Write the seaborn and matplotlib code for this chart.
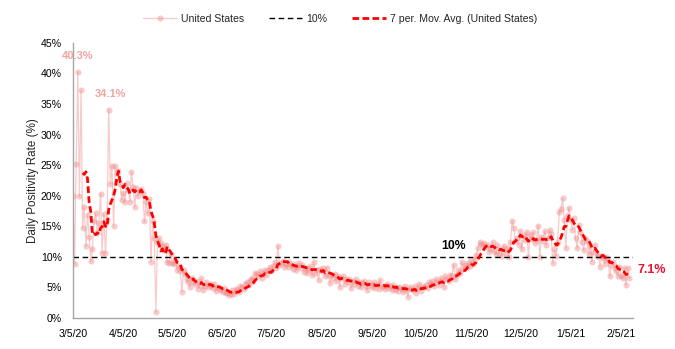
import pandas as pd
import matplotlib
matplotlib.use("Agg")
import matplotlib.pyplot as plt
import seaborn as sns

# Daily COVID-19 test positivity rate (%), United States, starting 3/5/20
start_date = "2020-03-05"
mar_2020 = [19.9, 8.8, 25.2, 40.3, 19.9, 37.3, 14.7, 18.2, 11.8, 16.9, 13.3, 9.3, 11.2,
            15.8, 17.1, 13.9, 15.5, 20.3, 10.6, 17.0, 10.6, 16.0, 34.1, 21.9, 24.9, 15.1, 24.8]
apr_2020 = [23.5, 24.0, 21.9, 19.3, 20.5, 18.9, 22.0, 20.9, 19.0, 23.8, 21.5, 18.2, 21.2, 20.0, 20.8,
            21.1, 20.5, 15.8, 19.0, 17.1, 19.4, 9.2, 15.8, 13.0, 1.0, 12.5, 13.0, 12.2, 11.8, 11.1]
may_2020 = [12.0, 9.2, 9.0, 10.4, 9.0, 8.8, 9.3, 7.9, 8.5, 7.6, 4.3, 7.9, 7.2, 6.3, 5.9, 5.1,
            6.6, 5.8, 5.5, 6.0, 4.8, 5.4, 6.5, 4.6, 5.3, 5.9, 5.0, 5.6, 5.2, 4.9, 5.6]
jun_2020 = [4.4, 5.1, 4.8, 4.6, 4.2, 4.9, 4.0, 4.1, 3.8, 3.9, 4.5, 3.9, 4.8, 4.6, 4.2,
            5.3, 5.0, 4.7, 5.5, 5.9, 5.4, 6.2, 6.6, 6.1, 7.4, 7.2, 6.8, 7.6, 6.5, 7.3]
jul_2020 = [7.9, 7.0, 7.8, 8.3, 7.6, 8.5, 9.1, 8.2, 11.8, 8.7, 9.0, 9.3, 8.4, 8.9, 8.3, 9.1,
            8.6, 8.0, 8.8, 7.9, 8.4, 9.0, 8.2, 8.7, 7.5, 8.1, 7.3, 7.9, 8.5, 7.0, 9.2]
aug_2020 = [7.4, 7.8, 6.2, 8.0, 7.6, 8.1, 6.8, 8.2, 7.1, 5.7, 7.0, 6.6, 7.2, 6.0, 6.9, 5.1,
            6.5, 6.8, 5.6, 6.3, 5.9, 6.4, 4.9, 6.0, 5.5, 6.3, 5.2, 5.8, 5.0, 5.7, 6.1]
sep_2020 = [5.3, 4.6, 5.9, 5.4, 5.1, 5.8, 4.9, 5.5, 4.8, 6.2, 5.0, 5.3, 4.7, 5.6, 4.9,
            5.2, 4.5, 5.4, 4.6, 5.1, 4.4, 5.0, 4.8, 4.3, 5.3, 4.6, 3.5, 5.0, 4.7, 4.5]
oct_2020 = [5.2, 4.1, 4.9, 5.6, 4.4, 5.1, 5.0, 5.4, 4.9, 5.8, 5.5, 6.0, 5.2, 6.3, 5.9, 5.4,
            6.5, 6.1, 5.1, 6.8, 6.4, 6.0, 7.1, 6.9, 8.7, 6.3, 7.0, 7.8, 7.4, 9.2, 8.0]
nov_2020 = [8.6, 8.3, 9.0, 8.5, 9.4, 8.8, 9.6, 10.3, 11.4, 12.4, 12.1, 11.8, 12.3, 11.6, 12.0,
            10.8, 11.2, 12.4, 11.0, 10.4, 11.9, 10.5, 11.3, 10.2, 11.8, 10.6, 11.5, 10.0, 12.4, 15.9]
dec_2020 = [14.7, 12.6, 13.1, 12.0, 14.2, 11.2, 13.5, 12.8, 14.1, 10.0, 13.6, 12.9, 14.0, 12.3, 12.7,
            15.1, 10.0, 13.3, 12.6, 14.2, 11.9, 13.0, 14.4, 13.8, 9.0, 11.2, 10.1, 12.5, 17.4, 17.8, 19.6]
jan_2021 = [16.0, 11.4, 16.6, 18.0, 16.0, 14.4, 16.3, 13.0, 11.4, 15.2, 14.0, 12.4, 11.1, 13.0, 12.6,
            10.4, 11.8, 9.2, 10.8, 12.0, 10.1, 10.3, 8.4, 10.2, 9.8, 8.9, 10.0, 9.4, 6.8, 8.7, 9.1]
feb_2021 = [8.2, 7.6, 6.9, 8.4, 6.8, 6.5, 8.1, 5.4, 8.1, 6.5]

positivity = (mar_2020 + apr_2020 + may_2020 + jun_2020 + jul_2020 + aug_2020
              + sep_2020 + oct_2020 + nov_2020 + dec_2020 + jan_2021 + feb_2021)

threshold = 10
ma_window = 7
second_peak_date = "2020-03-27"

x_tick_labels = ["3/5/20", "4/5/20", "5/5/20", "6/5/20", "7/5/20", "8/5/20",
                 "9/5/20", "10/5/20", "11/5/20", "12/5/20", "1/5/21", "2/5/21"]
y_ticks = [0, 5, 10, 15, 20, 25, 30, 35, 40, 45]

series_name = "United States"
ma_name = f"{ma_window} per. Mov. Avg. ({series_name})"

df = pd.DataFrame({
    "date": pd.date_range(start_date, periods=len(positivity), freq="D"),
    "rate": positivity,
})
df["ma"] = df["rate"].rolling(ma_window).mean()

sns.set_theme(style="white")
plt.rcParams["font.family"] = ["Liberation Sans", "DejaVu Sans"]

fig, ax = plt.subplots(figsize=(6.75, 3.49), dpi=100)
fig.subplots_adjust(left=0.108, right=0.938, bottom=0.089, top=0.877)

pink = "#F08A8A"
sns.lineplot(data=df, x="date", y="rate", ax=ax, color=pink, lw=0.9,
             marker="o", markersize=4.4, markeredgewidth=0, alpha=0.45,
             label=series_name)
ax.axhline(threshold, color="black", lw=1.0, ls=(0, (4, 2.6)), label=f"{threshold}%")
sns.lineplot(data=df, x="date", y="ma", ax=ax, color="#FF0000", lw=2.0,
             ls=(0, (2.4, 1.2)), label=ma_name)

# Axis ranges and ticks
x0 = df["date"].iloc[0]
ax.set_xlim(x0, x0 + pd.Timedelta(days=344.4))
ax.set_ylim(y_ticks[0], y_ticks[-1])
ax.set_xticks(pd.to_datetime(x_tick_labels, format="%m/%d/%y"))
ax.set_xticklabels(x_tick_labels)
ax.set_yticks(y_ticks)
ax.set_yticklabels([f"{v}%" for v in y_ticks])
ax.tick_params(axis="both", length=0, labelsize=7.6, colors="black")
ax.tick_params(axis="x", pad=8)
ax.tick_params(axis="y", pad=8)
ax.set_xlabel("")
ax.set_ylabel("Daily Positivity Rate (%)", fontsize=8.4, labelpad=1.5)
ax.grid(False)

sns.despine(ax=ax)
for side in ("left", "bottom"):
    ax.spines[side].set_color("#A6A6A6")
    ax.spines[side].set_linewidth(1.0)

# Annotations
label_pink = "#F4A3A3"
peak = df.loc[df["rate"].idxmax()]
ax.annotate(f"{peak['rate']:.1f}%", (peak["date"], peak["rate"]),
            xytext=(0, 11), textcoords="offset points", ha="center", va="center",
            fontsize=8, fontweight="bold", color=label_pink, annotation_clip=False)
second = df.loc[df["date"] == pd.Timestamp(second_peak_date)].iloc[0]
ax.annotate(f"{second['rate']:.1f}%", (second["date"], second["rate"]),
            xytext=(1, 11), textcoords="offset points", ha="center", va="center",
            fontsize=8, fontweight="bold", color=label_pink)

last = df.dropna().iloc[-1]
ax.annotate(f"{last['ma']:.1f}%", (last["date"], last["ma"]),
            xytext=(6, 3), textcoords="offset points", ha="left", va="center",
            fontsize=9, fontweight="bold", color="#EE1133", annotation_clip=False)

ax.annotate(f"{threshold}%", (pd.Timestamp("2020-10-25"), threshold),
            xytext=(0, 7.5), textcoords="offset points", ha="center", va="center",
            fontsize=8.8, fontweight="bold", color="black")

ax.legend(loc="center", bbox_to_anchor=(0.504, 0.946), bbox_transform=fig.transFigure,
          ncol=3, frameon=False, fontsize=7.6, handlelength=3.2,
          columnspacing=2.3, handletextpad=0.4)

fig.savefig("out.png", dpi=100)
